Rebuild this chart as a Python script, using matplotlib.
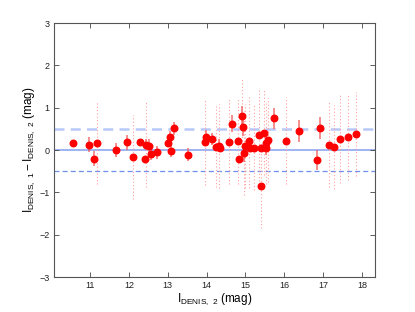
import numpy as np
import matplotlib
matplotlib.use("Agg")
import matplotlib.pyplot as plt

# I_DENIS,2 magnitude of each star
mag2 = [10.57, 10.97, 11.09, 11.17, 11.68, 11.96, 12.11, 12.29, 12.41, 12.44,
        12.52, 12.56, 12.72, 13.00, 13.07, 13.08, 13.16, 13.52, 13.95, 13.99,
        14.14, 14.23, 14.31, 14.34, 14.57, 14.65, 14.82, 14.84, 14.90, 14.94,
        14.97, 15.00, 15.08, 15.11, 15.23, 15.36, 15.39, 15.39, 15.47, 15.54,
        15.59, 15.54, 15.73, 16.05, 16.37, 16.84, 16.92, 17.14, 17.27, 17.44,
        17.64, 17.84]
# I_DENIS,1 - I_DENIS,2
diff = [0.16, 0.13, -0.20, 0.17, 0.00, 0.18, -0.16, 0.18, -0.20, 0.13,
        0.10, -0.09, -0.05, 0.16, 0.30, -0.02, 0.51, -0.11, 0.18, 0.32,
        0.26, 0.08, 0.10, 0.04, 0.20, 0.62, 0.21, -0.20, 0.80, 0.54,
        -0.07, 0.10, 0.21, 0.06, 0.06, 0.36, 0.06, -0.84, 0.41, 0.16,
        0.24, 0.04, 0.75, 0.22, 0.44, -0.23, 0.53, 0.13, 0.07, 0.27,
        0.30, 0.38]
# normal errors (solid bars), 0 = not shown
err = [0, 0.18, 0.18, 0, 0.16, 0.18, 0, 0, 0, 0.12,
       0.17, 0.15, 0.15, 0, 0.15, 0.15, 0.15, 0.15, 0, 0.15,
       0.15, 0, 0.15, 0, 0, 0.20, 0, 0, 0.23, 0.20,
       0.20, 0, 0, 0, 0, 0, 0, 0, 0, 0.15,
       0, 0.15, 0.25, 0, 0.26, 0.24, 0.26, 0, 0, 0,
       0, 0]
# large errors (dotted bars), 0 = not shown
err_big = [0, 0, 0, 0.98, 0, 0, 1.0, 0, 0, 1.0,
           0, 0, 0, 0, 0, 0, 0, 0, 1.0, 0,
           0, 0.95, 1.0, 0, 1.0, 0, 1.0, 0, 0.9, 0,
           1.0, 1.0, 1.1, 0, 1.0, 1.1, 0, 1.0, 1.0, 0.95,
           1.0, 0, 0, 1.03, 0, 0, 0, 1.0, 1.0, 1.05,
           1.0, 1.0]

x = np.array(mag2)
y = np.array(diff)
e = np.array(err)
eb = np.array(err_big)

plt.rcParams['font.family'] = ['Liberation Sans', 'DejaVu Sans']

fig = plt.figure(figsize=(4.15, 3.12), dpi=100)
ax = fig.add_axes([0.130, 0.112, 0.774, 0.814])

ax.axhline(0, color='#8fa6f2', lw=1.2, zorder=1)
ax.axhline(0.5, color='#b8c8f8', lw=1.8, ls=(0, (4, 2.5)), zorder=1)
ax.axhline(-0.5, color='#6f8ef0', lw=0.9, ls=(0, (4, 2.5)), zorder=1)

m = eb > 0
ax.vlines(x[m], y[m] - eb[m], y[m] + eb[m], colors='#ffa0a0', lw=0.8,
          linestyles=(0, (1, 2)), zorder=2)
m = e > 0
ax.vlines(x[m], y[m] - e[m], y[m] + e[m], colors='#f05a5a', lw=1.2, alpha=0.8, zorder=2)

ax.plot(x, y, 'o', color='red', ms=4.7, mec='red', zorder=3)

ax.set_xlim(x.min() - 0.5, x.max() + 0.5)
ax.set_ylim(-3, 3)
ax.set_xticks(range(11, 19))
ax.set_yticks(range(-3, 4))
ax.tick_params(direction='in', length=3.5, width=0.6, labelsize=6.5,
               top=True, right=True, colors='#444444', labelcolor='#222222', pad=3)
for s in ax.spines.values():
    s.set_linewidth(0.8)
    s.set_color('#555555')

ax.set_xlabel(r'$\mathregular{I_{DENIS,\ 2}}$ (mag)', fontsize=8.5, labelpad=1)
ax.set_ylabel(r'$\mathregular{I_{DENIS,\ 1}-I_{DENIS,\ 2}}$ (mag)', fontsize=8.5, labelpad=2)

fig.savefig('out.png', dpi=100)
